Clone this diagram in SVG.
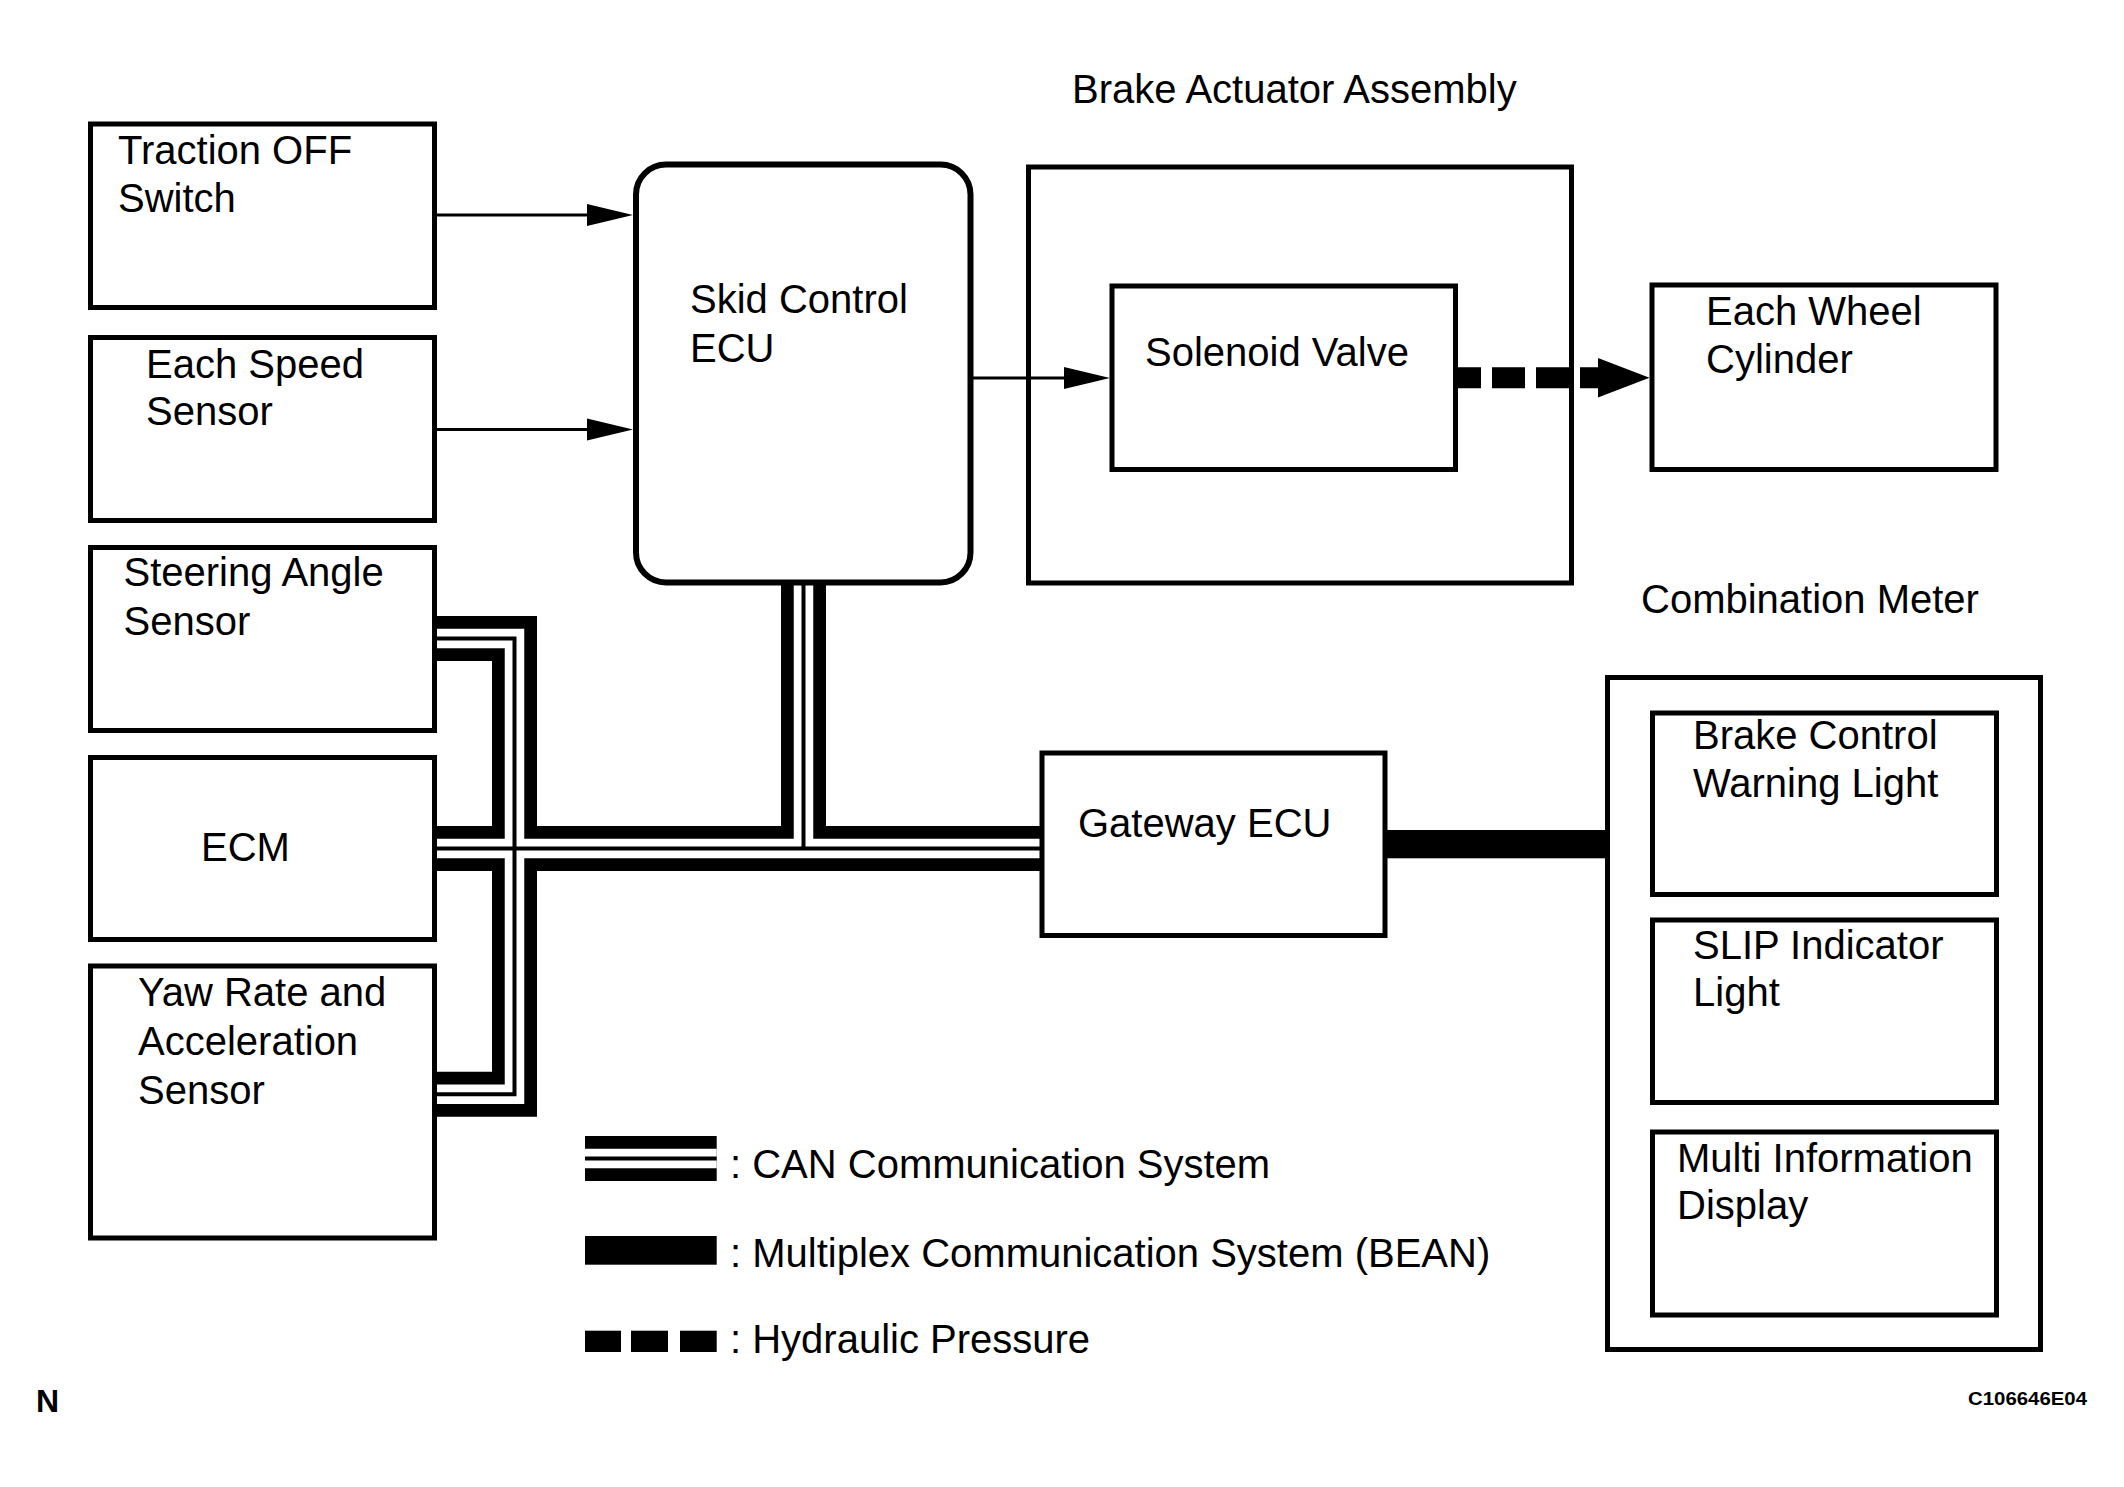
<svg xmlns="http://www.w3.org/2000/svg" xmlns:xlink="http://www.w3.org/1999/xlink" width="2124" height="1487" viewBox="0 0 2124 1487">
<style>
  text { font-family: "Liberation Sans", Arial, sans-serif; font-size: 40px; fill: #000; }
  .box { fill: #fff; stroke: #000; stroke-width: 5; }
  .frame { fill: none; stroke: #000; stroke-width: 5; }
  .ecu { fill: #fff; stroke: #000; stroke-width: 6; }
  .sig { fill: none; stroke: #000; stroke-width: 3; }
  .can1 { fill: none; stroke: #000; stroke-width: 45; stroke-linejoin: miter; stroke-linecap: butt; }
  .can2 { fill: none; stroke: #fff; stroke-width: 19.5; stroke-linejoin: miter; stroke-linecap: butt; }
  .can3 { fill: none; stroke: #000; stroke-width: 4; stroke-linejoin: miter; stroke-linecap: butt; }
  .hyd { fill: none; stroke: #000; stroke-width: 21; stroke-dasharray: 33 11; }
  .solid { fill: #000; }
  .small { font-size: 18px; font-weight: bold; }
  .n { font-size: 32px; font-weight: bold; }
</style>
<defs>
  <marker id="arrow" markerUnits="userSpaceOnUse" markerWidth="47" markerHeight="23" refX="0" refY="11" orient="auto" overflow="visible">
    <path d="M0,0 L46,11 L0,22 Z" fill="#000"/>
  </marker>
  <marker id="harrow" markerUnits="userSpaceOnUse" markerWidth="53" markerHeight="41" refX="0" refY="19.7" orient="auto" overflow="visible">
    <path d="M0,0 L51.5,19.7 L0,39.4 Z" fill="#000"/>
  </marker>
  <path id="canbus" d="M434.5,638.5 H514.5 V1094.2 H434.5 M434.5,848.5 H1043 M803.5,580 V848.5"/>
  <path id="canlegend" d="M585,1158.4 H716.7"/>
</defs>

<g id="connectors">
  <use xlink:href="#canbus" class="can1"/>
  <use xlink:href="#canbus" class="can2"/>
  <use xlink:href="#canbus" class="can3"/>
  <line class="sig" x1="435" y1="215" x2="587" y2="215" marker-end="url(#arrow)"/>
  <line class="sig" x1="435" y1="429.5" x2="587" y2="429.5" marker-end="url(#arrow)"/>
  <line class="sig" x1="972" y1="378" x2="1064" y2="378" marker-end="url(#arrow)"/>
  <line class="hyd" x1="1448" y1="377.8" x2="1598" y2="377.8" marker-end="url(#harrow)"/>
  <rect class="solid" x="1384" y="830" width="224" height="28.3"/>
</g>

<g id="traction-off-switch">
  <rect class="box" x="90.5" y="124" width="344" height="183.5"/>
  <text x="118" y="164">Traction OFF</text>
  <text x="118" y="212">Switch</text>
</g>
<g id="each-speed-sensor">
  <rect class="box" x="90.5" y="337.5" width="344" height="183"/>
  <text x="146" y="378">Each Speed</text>
  <text x="146" y="425">Sensor</text>
</g>
<g id="steering-angle-sensor">
  <rect class="box" x="90.5" y="547.5" width="344" height="183"/>
  <text x="123.5" y="586">Steering Angle</text>
  <text x="123.5" y="635">Sensor</text>
</g>
<g id="ecm">
  <rect class="box" x="90.5" y="757.5" width="344" height="182"/>
  <text x="201" y="861">ECM</text>
</g>
<g id="yaw-rate-sensor">
  <rect class="box" x="90.5" y="966" width="344" height="272"/>
  <text x="138" y="1005.5">Yaw Rate and</text>
  <text x="138" y="1054.5">Acceleration</text>
  <text x="138" y="1103.5">Sensor</text>
</g>
<g id="skid-control-ecu">
  <rect class="ecu" x="636" y="164.5" width="334.5" height="418" rx="30" ry="30"/>
  <text x="690" y="313">Skid Control</text>
  <text x="690" y="361.5">ECU</text>
</g>
<g id="brake-actuator-assembly">
  <rect class="frame" x="1028.5" y="167" width="543" height="416"/>
  <text x="1072" y="103">Brake Actuator Assembly</text>
</g>
<g id="solenoid-valve">
  <rect class="box" x="1112" y="286" width="343.5" height="183.5"/>
  <text x="1145" y="366">Solenoid Valve</text>
</g>
<g id="each-wheel-cylinder">
  <rect class="box" x="1652" y="285" width="344" height="184.5"/>
  <text x="1706" y="325">Each Wheel</text>
  <text x="1706" y="373">Cylinder</text>
</g>
<g id="gateway-ecu">
  <rect class="box" x="1042" y="753" width="343" height="182.5"/>
  <text x="1078" y="837">Gateway ECU</text>
</g>
<g id="combination-meter">
  <rect class="frame" x="1607.5" y="677.5" width="433" height="672"/>
  <text x="1641" y="613">Combination Meter</text>
</g>
<g id="brake-control-warning-light">
  <rect class="box" x="1652.5" y="713" width="344" height="181.5"/>
  <text x="1693" y="748.5">Brake Control</text>
  <text x="1693" y="797">Warning Light</text>
</g>
<g id="slip-indicator-light">
  <rect class="box" x="1652.5" y="920" width="344" height="182.5"/>
  <text x="1693" y="958.5">SLIP Indicator</text>
  <text x="1693" y="1006">Light</text>
</g>
<g id="multi-information-display">
  <rect class="box" x="1652.5" y="1132" width="344" height="183"/>
  <text x="1677" y="1171.5">Multi Information</text>
  <text x="1677" y="1219">Display</text>
</g>

<g id="legend">
  <use xlink:href="#canlegend" class="can1"/>
  <use xlink:href="#canlegend" class="can2"/>
  <use xlink:href="#canlegend" class="can3"/>
  <text x="730" y="1178">: CAN Communication System</text>
  <rect class="solid" x="585" y="1236" width="131.7" height="28.7"/>
  <text x="730" y="1266.5">: Multiplex Communication System (BEAN)</text>
  <rect class="solid" x="585" y="1330.7" width="36" height="21.3"/>
  <rect class="solid" x="631" y="1330.7" width="37" height="21.3"/>
  <rect class="solid" x="680" y="1330.7" width="36.7" height="21.3"/>
  <text x="730" y="1353">: Hydraulic Pressure</text>
</g>

<text class="n" x="36" y="1411.7">N</text>
<text class="small" x="1968" y="1405" textLength="119" lengthAdjust="spacingAndGlyphs">C106646E04</text>
</svg>
